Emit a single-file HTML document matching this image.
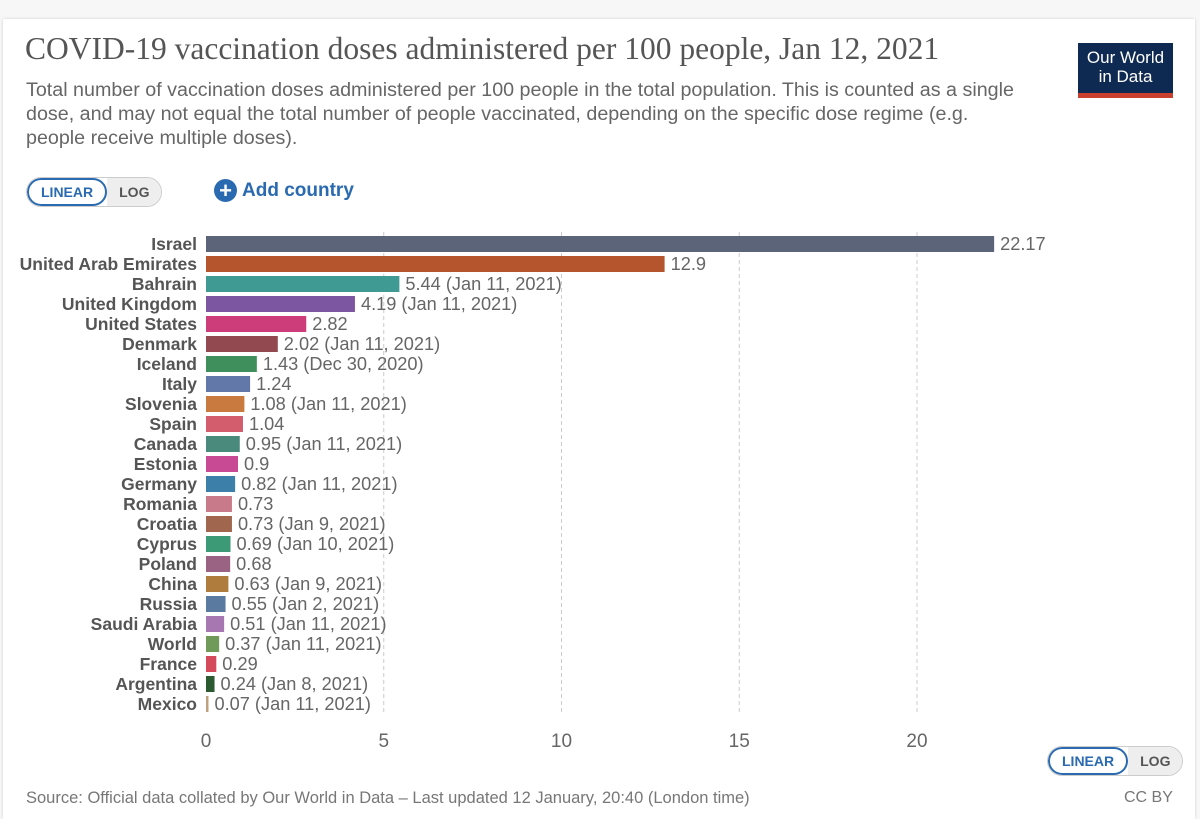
<!DOCTYPE html>
<html><head><meta charset="utf-8"><style>
body{margin:0;width:1200px;height:811px;background:#f7f7f7;font-family:"Liberation Sans",sans-serif;overflow:hidden;position:relative}
#card{position:absolute;left:3px;top:19px;width:1192px;height:800px;background:#fff;box-shadow:0 0 3px rgba(0,0,0,.15)}
.abs{position:absolute}
#title{left:25px;top:31px;font-family:"Liberation Serif",serif;font-size:31.5px;color:#555;white-space:nowrap}
#sub{left:26px;top:78px;font-size:19.7px;line-height:24px;color:#666;white-space:nowrap}
.tog{display:flex;border:1px solid #ccc;border-radius:16px;overflow:hidden;font-size:14px;font-weight:bold;height:28px}
.tog div{padding:0 12px;line-height:28px}
.tog .on{border:2px solid #2a6ab0;border-radius:16px;color:#2a6ab0;line-height:24px}
.tog .off{background:#eee;color:#555}
</style></head><body>
<div id="card"></div>
<div class="abs" id="title">COVID-19 vaccination doses administered per 100 people, Jan 12, 2021</div>
<div class="abs" id="sub">Total number of vaccination doses administered per 100 people in the total population. This is counted as a single<br>dose, and may not equal the total number of people vaccinated, depending on the specific dose regime (e.g.<br>people receive multiple doses).</div>
<div class="abs" style="left:1078px;top:43px;width:95px;height:55px;background:#0f2a52;color:#fff;font-size:17px;line-height:19px;text-align:center;box-sizing:border-box;padding-top:5px;border-bottom:5px solid #c9412e">Our World<br>in Data</div>
<div class="abs tog" style="left:26px;top:177px"><div class="on">LINEAR</div><div class="off">LOG</div></div>
<div class="abs" style="left:214px;top:179px;font-size:19px;font-weight:bold;color:#2a6ab0;display:flex;align-items:center"><span style="display:inline-block;width:23px;height:23px;border-radius:50%;background:#2a6ab0;color:#fff;text-align:center;line-height:23px;font-size:22px;margin-right:5px">+</span>Add country</div>
<svg class="abs" style="left:0;top:0" width="1200" height="811" id="chart"></svg>
<div class="abs tog" style="left:1047px;top:746px"><div class="on">LINEAR</div><div class="off">LOG</div></div>
<div class="abs" style="left:26px;top:789px;font-size:16.5px;color:#777">Source: Official data collated by Our World in Data – Last updated 12 January, 20:40 (London time)</div>
<div class="abs" style="left:1124px;top:789px;font-size:16px;color:#777">CC BY</div>
<script>
const countries=["Israel","United Arab Emirates","Bahrain","United Kingdom","United States","Denmark","Iceland","Italy","Slovenia","Spain","Canada","Estonia","Germany","Romania","Croatia","Cyprus","Poland","China","Russia","Saudi Arabia","World","France","Argentina","Mexico"];
const values=[22.17,12.9,5.44,4.19,2.82,2.02,1.43,1.24,1.08,1.04,0.95,0.9,0.82,0.73,0.73,0.69,0.68,0.63,0.55,0.51,0.37,0.29,0.24,0.07];
const notes=["","","Jan 11, 2021","Jan 11, 2021","","Jan 11, 2021","Dec 30, 2020","","Jan 11, 2021","","Jan 11, 2021","","Jan 11, 2021","","Jan 9, 2021","Jan 10, 2021","","Jan 9, 2021","Jan 2, 2021","Jan 11, 2021","Jan 11, 2021","","Jan 8, 2021","Jan 11, 2021"];
const colors=["#5b6478","#b5552e","#3e9a93","#7c56a0","#cc3d7a","#924a50","#3e8f5b","#6278a8","#c97a3e","#d35d6c","#4a8a7c","#c94a94","#3c7fa8","#c97a8a","#a0664e","#3d9a77","#9a6383","#b07c3e","#5a7aa0","#a677b0","#6f9a5a","#d54a5a","#2b5a30","#c0a080"];
const ticks=[0,5,10,15,20];
const svg=document.getElementById('chart');const NS='http://www.w3.org/2000/svg';
const x=v=>206+v*35.55, y=i=>236+i*20;
function mk(t,a){const e=document.createElementNS(NS,t);for(const k in a)e.setAttribute(k,a[k]);svg.appendChild(e);return e;}
ticks.forEach(t=>{
 if(t>0){const g=mk('line',{x1:x(t),x2:x(t),y1:232,y2:714,stroke:'#ccc','stroke-dasharray':'4,3'});
 
 }
 const l=mk('text',{x:x(t),y:747,'text-anchor':'middle','font-size':19,fill:'#666'});l.textContent=t;
 
 
});
countries.forEach((c,i)=>{
 const lb=mk('text',{x:197,y:y(i)+14,'text-anchor':'end','font-size':17.5,'font-weight':'bold',fill:'#555'});lb.textContent=c;
 
 
 const b=mk('rect',{x:x(0),y:y(i),width:Math.max(values[i]*35.55,2),height:16,fill:colors[i]});
 
 
 const v=mk('text',{x:x(values[i])+Math.max(0,2-values[i]*35.55)+6,y:y(i)+14,'font-size':18.2,fill:'#666'});
 v.textContent=values[i]+(notes[i]?' ('+notes[i]+')':'');
 
 
});
</script>
</body></html>
